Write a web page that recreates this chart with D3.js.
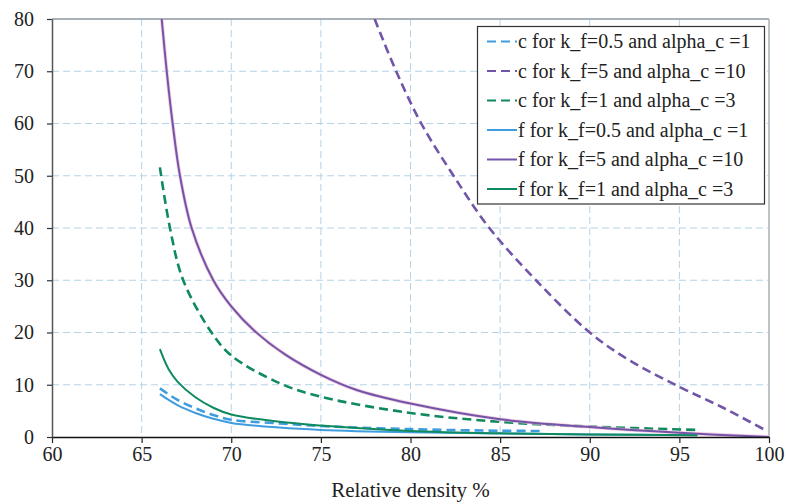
<!DOCTYPE html>
<html>
<head>
<meta charset="utf-8">
<script src="https://cdn.jsdelivr.net/npm/d3@7"></script>
<style>
  html, body { margin: 0; padding: 0; background: #fff; }
  svg { display: block; }
</style>
</head>
<body>
<svg id="chart" width="786" height="504"></svg>
<script>
// ---- data ----
const xTicks = [60, 65, 70, 75, 80, 85, 90, 95, 100];
const yTicks = [0, 10, 20, 30, 40, 50, 60, 70, 80];
const xTitle = "Relative density %";

const labels = [
  "c for k_f=0.5 and alpha_c =1",
  "c for k_f=5 and alpha_c =10",
  "c for k_f=1 and alpha_c =3",
  "f for k_f=0.5 and alpha_c =1",
  "f for k_f=5 and alpha_c =10",
  "f for k_f=1 and alpha_c =3"
];

const cK05x = [66.02, 67, 68, 69, 70, 72.7, 75, 80, 85, 87.4];
const cK05y = [9.3, 7.1, 5.5, 4.2, 3.3, 2.6, 2.1, 1.5, 1.2, 1.15];

const cK5x = [78.0, 79.2, 80.6, 82.4, 84.4, 87.0, 90.0, 92.2, 95.0, 97.5, 99.8];
const cK5y = [80, 70, 60, 50, 40, 30, 20, 14.7, 9.6, 5.5, 1.3];

const cK1x = [66.02, 66.58, 67.32, 68.9, 70, 72.7, 75, 80, 85, 90, 96.0];
const cK1y = [51.6, 40, 30, 20, 15.6, 10.3, 7.7, 4.6, 2.9, 2.0, 1.35];

const fK05x = [66.02, 67, 68, 69, 70, 72.7, 75, 80, 85, 90, 96];
const fK05y = [8.2, 6.1, 4.6, 3.5, 2.7, 1.8, 1.35, 0.9, 0.67, 0.5, 0.35];

const fK5x = [66.12, 66.4, 66.73, 67.14, 67.79, 69.0, 70, 71.3, 73, 75, 77, 80, 85, 90, 95, 100];
const fK5y = [80, 70, 60, 50, 40, 30, 25, 20.3, 15.8, 11.9, 9.0, 6.4, 3.4, 1.9, 0.8, 0];

const fK1x = [66.02, 66.5, 67, 68, 69, 70, 72.7, 75, 80, 85, 90, 96];
const fK1y = [16.8, 13.0, 10.6, 7.6, 5.6, 4.3, 2.9, 2.2, 1.15, 0.7, 0.5, 0.35];

const blue = "#3f9ddf", purple = "#7155a8", green = "#0f8a5e";
const FONT = "'Liberation Serif', 'Tinos', 'Times New Roman', 'DejaVu Serif', 'Noto Serif', serif";

const series = [
  { name: labels[0], xs: cK05x, ys: cK05y, color: blue,   dashed: true  },
  { name: labels[1], xs: cK5x,  ys: cK5y,  color: purple, dashed: true  },
  { name: labels[2], xs: cK1x,  ys: cK1y,  color: green,  dashed: true  },
  { name: labels[3], xs: fK05x, ys: fK05y, color: blue,   dashed: false },
  { name: labels[4], xs: fK5x,  ys: fK5y,  color: purple, dashed: false },
  { name: labels[5], xs: fK1x,  ys: fK1y,  color: green,  dashed: false }
];

// ---- layout ----
const L = 52, R = 769, T = 19, B = 437;
const svg = d3.select("#chart");
const x = d3.scaleLinear().domain([60, 100]).range([L, R]);
const y = d3.scaleLinear().domain([0, 80]).range([B, T]);

// grid
const grid = svg.append("g");
grid.selectAll("line.h").data(yTicks.filter(d => d > 0 && d < 80)).enter().append("line")
  .attr("x1", L).attr("x2", R).attr("y1", d => y(d)).attr("y2", d => y(d))
  .attr("stroke", "#b3d3e8").attr("stroke-width", 1).attr("stroke-dasharray", "7,4");
grid.selectAll("line.v").data(xTicks.filter(d => d > 60 && d < 100)).enter().append("line")
  .attr("x1", d => x(d)).attr("x2", d => x(d)).attr("y1", T).attr("y2", B)
  .attr("stroke", "#b3d3e8").attr("stroke-width", 1).attr("stroke-dasharray", "7,4");

// frame top/right
svg.append("line").attr("x1", L).attr("x2", R).attr("y1", T).attr("y2", T)
  .attr("stroke", "#a7b0b6").attr("stroke-width", 2);
svg.append("line").attr("x1", R).attr("x2", R).attr("y1", T).attr("y2", B)
  .attr("stroke", "#a7b0b6").attr("stroke-width", 1.5);

// series
const line = d3.line().x(d => x(d[0])).y(d => y(d[1])).curve(d3.curveCatmullRom.alpha(0.5));
svg.append("clipPath").attr("id", "clip").append("rect")
  .attr("x", L).attr("y", T).attr("width", R - L).attr("height", B - T);
const sg = svg.append("g").attr("clip-path", "url(#clip)");
series.forEach(s => {
  const pts = s.xs.map((v, i) => [v, s.ys[i]]);
  if (!s.dashed && s.color === purple) {
    sg.append("path").datum(pts).attr("fill", "none")
      .attr("stroke", "#f2b8d6").attr("stroke-opacity", 0.7)
      .attr("stroke-width", 3.6).attr("d", line);
  }
  sg.append("path").datum(pts)
    .attr("fill", "none")
    .attr("stroke", s.color)
    .attr("stroke-width", s.dashed ? 2.6 : 2)
    .attr("stroke-dasharray", s.dashed ? "9,5" : null)
    .attr("d", line);
});

// axes
const xAxis = d3.axisBottom(x).tickValues(xTicks).tickSize(6).tickSizeOuter(0).tickPadding(4);
const gx = svg.append("g").attr("transform", `translate(0,${B})`).call(xAxis);
gx.select(".domain").attr("stroke", "#111").attr("stroke-width", 1.5);
gx.selectAll(".tick line").attr("stroke", "#222").attr("stroke-width", 1.2);
gx.selectAll(".tick text").style("font-family", FONT).style("font-size", "20px").style("fill", "#222");

const yAxis = d3.axisLeft(y).tickValues(yTicks).tickSize(5).tickSizeOuter(0).tickPadding(13);
const gy = svg.append("g").attr("transform", `translate(${L},0)`).call(yAxis);
gy.select(".domain").attr("stroke", "#555").attr("stroke-width", 1.5);
gy.selectAll(".tick line").attr("stroke", "#333").attr("stroke-width", 1.2);
gy.selectAll(".tick text").style("font-family", FONT).style("font-size", "20px").style("fill", "#222");

svg.append("text").attr("x", (L + R) / 2).attr("y", 497)
  .attr("text-anchor", "middle")
  .style("font-family", FONT).style("font-size", "21px").style("fill", "#222")
  .text(xTitle);

// legend
const lg = svg.append("g");
lg.append("rect").attr("x", 477.5).attr("y", 26.5).attr("width", 287).attr("height", 177.5)
  .attr("fill", "#fff").attr("stroke", "#333").attr("stroke-width", 1.2);
series.forEach((s, i) => {
  const cy = 41.5 + i * 29.5;
  lg.append("line").attr("x1", 487).attr("x2", 517).attr("y1", cy).attr("y2", cy)
    .attr("stroke", s.color).attr("stroke-width", 2)
    .attr("stroke-dasharray", s.dashed ? "9,5" : null);
  lg.append("text").attr("x", 518).attr("y", cy).attr("dy", "0.33em")
    .style("font-family", FONT).style("font-size", "20px").style("fill", "#222")
    .text(s.name);
});
</script>
</body>
</html>
